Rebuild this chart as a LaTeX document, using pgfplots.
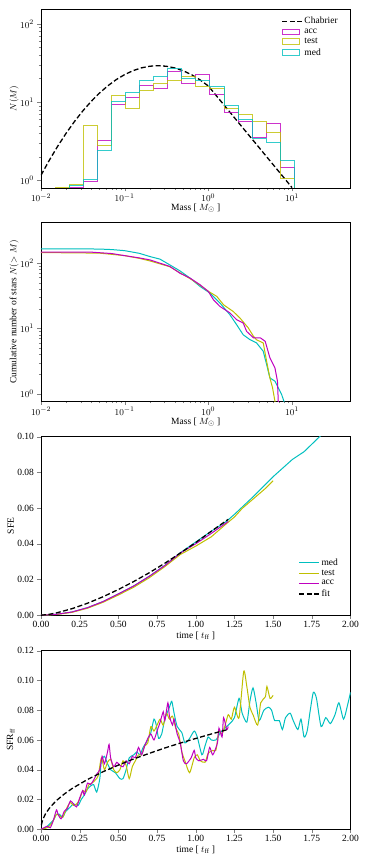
\documentclass[border=0pt]{standalone}
\usepackage{fontspec}
\setmainfont{Liberation Serif}
\usepackage{pgfplots}
\pgfplotsset{compat=1.18}

\definecolor{cmed}{HTML}{00BFBF}
\definecolor{ctest}{HTML}{BFBF00}
\definecolor{cacc}{HTML}{BF00BF}

\newcommand{\labfont}{\fontsize{9.5}{11}\selectfont}

\pgfplotsset{every axis/.append style={
    scale only axis, width=309.5pt, height=178.5pt,
    anchor=north west,
    axis line style={black, line width=0.6pt},
    tick align=outside, tick pos=left,
    major tick length=3.5pt, minor tick length=2pt,
    tick label style={font=\labfont},
    xticklabel style={inner sep=2pt},
    label style={font=\labfont},
    xlabel style={at={(axis description cs:0.5,-0.115)}, anchor=center},
    legend cell align=left,
    legend style={draw=none, fill=none, inner sep=0pt, row sep=0.5pt,
      font=\labfont, anchor=north west, nodes={inner sep=1.5pt}},
  }}

\begin{document}
\begin{tikzpicture}
\useasboundingbox (-41pt,9.3pt) rectangle (324pt,-852.7pt);

% ---------- panel 1: mass function ----------
\begin{loglogaxis}[at={(0pt,0pt)},
    xmin=0.01, xmax=50, ymin=0.8, ymax=154,
    xtick={0.01,0.1,1,10}, ytick={1,10,100},
    xlabel={Mass [ $M_\odot$ ]},
    ylabel={$N(M)$},
    ylabel style={at={(axis description cs:-0.087,0.5)}, anchor=center},
    legend style={at={(axis description cs:0.777,0.965)}},
    legend image code/.code={\draw[#1] (0pt,0pt) -- (20pt,0pt);},
  ]
  \addplot[black, line width=1.3pt, dash pattern=on 5pt off 2.5pt] coordinates {
    (0.01,1.159) (0.01259,1.807) (0.01585,2.729) (0.01995,3.990) (0.02512,5.642)
    (0.03162,7.718) (0.03981,10.21) (0.05012,13.08) (0.0631,16.20) (0.07943,19.42)
    (0.1,22.51) (0.1259,25.25) (0.1585,27.41) (0.1995,28.78) (0.2512,29.24)
    (0.3162,28.74) (0.3981,27.33) (0.5012,25.16) (0.631,22.39) (0.7943,19.29)
    (1.0,16.07) (1.585,8.83) (2.512,4.85) (3.981,2.67) (6.31,1.466) (10.0,0.805)
  };
  \addlegendentry{Chabrier}
  \addplot[cacc, const plot mark left, line width=0.9pt, opacity=0.8, area legend] coordinates {
    (0.01,0.5) (0.01473,0.5) (0.0217,0.82) (0.03196,0.97) (0.04708,3.26)
    (0.06934,9.2) (0.1021,11.4) (0.1504,16.5) (0.2216,15.0) (0.3264,24.7)
    (0.4808,17.5) (0.7082,22.4) (1.043,12.7) (1.537,7.3) (2.264,5.6)
    (3.334,3.5) (4.911,5.4) (7.234,1.44) (10.66,0.5)
  };
  \addlegendentry{acc}
  \addplot[ctest, const plot mark left, line width=0.9pt, opacity=0.8, area legend] coordinates {
    (0.01,0.5) (0.01473,0.8) (0.0217,0.88) (0.03196,5.07) (0.04708,2.75)
    (0.06934,12.3) (0.1021,8.3) (0.1504,14.0) (0.2216,17.3) (0.3264,18.8)
    (0.4808,21.0) (0.7082,16.0) (1.043,15.0) (1.537,8.3) (2.264,6.95)
    (3.334,5.7) (4.911,4.05) (7.234,1.04) (10.66,0.5)
  };
  \addlegendentry{test}
  \addplot[cmed, const plot mark left, line width=0.9pt, opacity=0.8, area legend] coordinates {
    (0.01,0.5) (0.01473,0.5) (0.0217,0.85) (0.03196,1.03) (0.04708,2.38)
    (0.06934,10.3) (0.1021,13.3) (0.1504,18.8) (0.2216,21.1) (0.3264,27.0)
    (0.4808,20.3) (0.7082,19.1) (1.043,16.0) (1.537,9.1) (2.264,6.0)
    (3.334,3.4) (4.911,3.04) (7.234,1.77) (10.66,0.5)
  };
  \addlegendentry{med}
\end{loglogaxis}

% ---------- panel 2: cumulative ----------
\begin{loglogaxis}[at={(0pt,-213.4pt)},
    xmin=0.01, xmax=50, ymin=0.77, ymax=415,
    xtick={0.01,0.1,1,10}, ytick={1,10,100},
    xlabel={Mass [ $M_\odot$ ]},
    ylabel={Cumulative number of stars $N(>M)$},
    ylabel style={at={(axis description cs:-0.087,0.5)}, anchor=center},
  ]
  \addplot[cmed, line width=1pt] coordinates {
    (0.01,165) (0.03,165) (0.05,164) (0.07,161) (0.1,155) (0.15,141) (0.2,126)
    (0.264,115) (0.346,94) (0.458,76) (0.603,59) (0.794,44) (1.045,34.8)
    (1.376,24.5) (1.81,16.2) (2.18,11.4) (2.61,8.0) (3.14,6.74) (3.77,6.0)
    (4.53,4.47) (4.97,2.8) (5.44,1.75) (6.25,1.56) (6.84,1.24) (7.5,0.98)
    (8.0,0.77) (8.3,0.6)
  };
  \addplot[ctest, line width=1pt] coordinates {
    (0.01,145) (0.05,142) (0.1,130) (0.15,118) (0.2,108) (0.346,88) (0.458,71)
    (0.603,58) (0.794,46) (1.0,37) (1.26,31) (1.52,23) (1.98,18.2) (2.38,14.5)
    (3.0,10.2) (3.46,7.6) (3.77,6.7) (4.53,6.0) (4.97,3.15) (5.44,1.75)
    (5.85,1.24) (6.25,0.77) (6.4,0.6)
  };
  \addplot[cacc, line width=1pt] coordinates {
    (0.01,147) (0.04,147) (0.07,140) (0.1,130) (0.15,120) (0.2,112) (0.346,89)
    (0.458,70) (0.603,59) (0.794,46.7) (1.0,36.8) (1.15,27.5) (1.376,21.7)
    (1.81,17.3) (2.18,13.6) (2.61,12.1) (2.87,9.0) (3.46,7.2) (4.17,7.2)
    (4.78,6.35) (5.44,3.55) (6.25,2.49) (6.7,1.56) (6.87,0.7) (6.9,0.6)
  };
\end{loglogaxis}

% ---------- panel 3: SFE ----------
\begin{axis}[at={(0pt,-427.4pt)},
    xmin=0, xmax=2, ymin=0, ymax=0.1,
    xtick={0,0.25,0.5,0.75,1,1.25,1.5,1.75,2},
    ytick={0,0.02,0.04,0.06,0.08,0.1},
    scaled ticks=false,
    xticklabel style={/pgf/number format/.cd, fixed, fixed zerofill, precision=2, assume math mode=true},
    yticklabel style={/pgf/number format/.cd, fixed, fixed zerofill, precision=2, assume math mode=true},
    xlabel={time [ $t_{\mathrm{ff}}$ ]},
    ylabel={SFE},
    ylabel style={at={(axis description cs:-0.098,0.5)}, anchor=center},
    legend style={at={(axis description cs:0.832,0.327)}},
    legend image code/.code={\draw[#1] (0pt,0pt) -- (20pt,0pt);},
  ]
  \addplot[cmed, line width=1pt] coordinates {
    (0,0) (0.1,0.0005) (0.2,0.0018) (0.3,0.0042) (0.4,0.0076) (0.5,0.0119)
    (0.6,0.0164) (0.7,0.0218) (0.8,0.0279) (0.9,0.0350) (1.0,0.0410)
    (1.1,0.0470) (1.2,0.0527) (1.25,0.0565) (1.375,0.0667) (1.5,0.0776)
    (1.625,0.0873) (1.7,0.0916) (1.8,0.1000) (1.9,0.108) (2.0,0.116)
  };
  \addlegendentry{med}
  \addplot[ctest, line width=1pt] coordinates {
    (0,0) (0.1,0.0004) (0.2,0.0016) (0.3,0.0039) (0.4,0.0072) (0.5,0.0113)
    (0.6,0.0157) (0.7,0.0210) (0.8,0.0272) (0.9,0.0340) (1.0,0.0387)
    (1.1,0.0439) (1.2,0.0514) (1.25,0.0550) (1.3,0.0598) (1.375,0.0654)
    (1.45,0.0710) (1.5,0.0753)
  };
  \addlegendentry{test}
  \addplot[cacc, line width=1pt] coordinates {
    (0,0) (0.1,0.0005) (0.2,0.0018) (0.3,0.0042) (0.4,0.0076) (0.5,0.0119)
    (0.6,0.0164) (0.7,0.0218) (0.8,0.0278) (0.9,0.0348) (1.0,0.0400)
    (1.1,0.0458) (1.21,0.0525)
  };
  \addlegendentry{acc}
  \addplot[black, line width=1.3pt, dash pattern=on 5pt off 2.5pt] coordinates {
    (0,0) (0.05,0.00045) (0.1,0.00129) (0.2,0.00364) (0.3,0.00669) (0.4,0.0103)
    (0.5,0.0144) (0.6,0.0189) (0.7,0.0238) (0.8,0.0291) (0.9,0.0348)
    (1.0,0.0407) (1.1,0.0470) (1.21,0.0537)
  };
  \addlegendentry{fit}
\end{axis}

% ---------- panel 4: SFR per free-fall time ----------
\begin{axis}[at={(0pt,-641.4pt)},
    xmin=0, xmax=2, ymin=0, ymax=0.12,
    xtick={0,0.25,0.5,0.75,1,1.25,1.5,1.75,2},
    ytick={0,0.02,0.04,0.06,0.08,0.1,0.12},
    scaled ticks=false,
    xticklabel style={/pgf/number format/.cd, fixed, fixed zerofill, precision=2, assume math mode=true},
    yticklabel style={/pgf/number format/.cd, fixed, fixed zerofill, precision=2, assume math mode=true},
    xlabel={time [ $t_{\mathrm{ff}}$ ]},
    ylabel={SFR\textsubscript{ff}},
    ylabel style={at={(axis description cs:-0.098,0.5)}, anchor=center},
  ]
  \addplot[cmed, line width=1pt, smooth, tension=0.4] coordinates {
    (0.00,0.000) (0.03,0.001) (0.06,0.004) (0.08,0.006) (0.10,0.010) (0.12,0.010)
    (0.14,0.008) (0.16,0.012) (0.19,0.015) (0.21,0.017) (0.24,0.016) (0.26,0.020)
    (0.28,0.023) (0.30,0.027) (0.32,0.029) (0.34,0.030) (0.36,0.025) (0.38,0.034)
    (0.39,0.046) (0.41,0.049) (0.43,0.044) (0.45,0.040) (0.48,0.038) (0.51,0.034)
    (0.53,0.034) (0.55,0.040) (0.57,0.048) (0.60,0.050) (0.62,0.052) (0.64,0.050)
    (0.66,0.055) (0.69,0.060) (0.71,0.065) (0.73,0.074) (0.745,0.070) (0.76,0.061)
    (0.78,0.064) (0.80,0.074) (0.83,0.082) (0.845,0.086) (0.86,0.078) (0.88,0.069)
    (0.91,0.065) (0.93,0.058) (0.96,0.061) (0.99,0.066) (1.01,0.062) (1.04,0.050)
    (1.06,0.056) (1.08,0.062) (1.10,0.060) (1.13,0.060) (1.16,0.065) (1.19,0.068)
    (1.22,0.071) (1.25,0.075) (1.28,0.088) (1.30,0.078) (1.33,0.072) (1.35,0.086)
    (1.37,0.095) (1.39,0.085) (1.41,0.073) (1.44,0.080) (1.47,0.082) (1.49,0.080)
    (1.51,0.073) (1.54,0.073) (1.56,0.067) (1.58,0.075) (1.61,0.078) (1.63,0.073)
    (1.66,0.067) (1.68,0.074) (1.70,0.062) (1.72,0.066) (1.74,0.080) (1.76,0.092)
    (1.78,0.088) (1.81,0.069) (1.84,0.075) (1.87,0.071) (1.90,0.077) (1.925,0.085)
    (1.955,0.074) (1.98,0.083) (2.00,0.092)
  };
  \addplot[ctest, line width=1pt, smooth, tension=0.4] coordinates {
    (0.00,0.000) (0.04,0.001) (0.07,0.004) (0.10,0.010) (0.12,0.009) (0.14,0.008)
    (0.17,0.015) (0.19,0.018) (0.21,0.016) (0.23,0.017) (0.25,0.020) (0.27,0.026)
    (0.29,0.025) (0.31,0.030) (0.33,0.031) (0.35,0.033) (0.37,0.036) (0.39,0.048)
    (0.41,0.040) (0.43,0.045) (0.45,0.047) (0.47,0.040) (0.49,0.038) (0.51,0.040)
    (0.53,0.046) (0.55,0.043) (0.57,0.034) (0.59,0.042) (0.61,0.046) (0.63,0.050)
    (0.65,0.050) (0.67,0.056) (0.69,0.058) (0.71,0.069) (0.73,0.066) (0.75,0.070)
    (0.77,0.074) (0.79,0.070) (0.81,0.078) (0.83,0.074) (0.85,0.076) (0.87,0.068)
    (0.89,0.064) (0.91,0.052) (0.93,0.046) (0.96,0.038) (0.99,0.048) (1.01,0.050)
    (1.03,0.046) (1.06,0.045) (1.08,0.051) (1.11,0.053) (1.13,0.053) (1.15,0.066)
    (1.17,0.064) (1.19,0.070) (1.21,0.077) (1.23,0.074) (1.25,0.082) (1.28,0.075)
    (1.31,0.106) (1.33,0.096) (1.35,0.082) (1.37,0.077) (1.40,0.070) (1.42,0.085)
    (1.45,0.089) (1.46,0.096) (1.48,0.088) (1.50,0.090)
  };
  \addplot[cacc, line width=1pt, smooth, tension=0.4] coordinates {
    (0.00,0.000) (0.02,0.001) (0.04,0.002) (0.06,0.001) (0.08,0.006) (0.10,0.013)
    (0.11,0.010) (0.13,0.007) (0.15,0.012) (0.17,0.014) (0.19,0.019) (0.21,0.017)
    (0.23,0.015) (0.25,0.021) (0.27,0.026) (0.28,0.023) (0.30,0.031) (0.32,0.030)
    (0.34,0.033) (0.36,0.037) (0.38,0.040) (0.395,0.049) (0.41,0.044) (0.43,0.052)
    (0.44,0.057) (0.45,0.048) (0.47,0.042) (0.49,0.045) (0.51,0.043) (0.53,0.042)
    (0.55,0.046) (0.57,0.044) (0.59,0.049) (0.61,0.048) (0.63,0.055) (0.65,0.050)
    (0.67,0.056) (0.69,0.061) (0.71,0.064) (0.73,0.060) (0.75,0.066) (0.77,0.072)
    (0.79,0.079) (0.80,0.073) (0.82,0.085) (0.83,0.076) (0.85,0.070) (0.86,0.074)
    (0.88,0.064) (0.90,0.058) (0.92,0.046) (0.94,0.044) (0.97,0.048) (0.99,0.053)
    (1.00,0.048) (1.02,0.046) (1.05,0.047) (1.07,0.046) (1.09,0.055) (1.11,0.050)
    (1.14,0.058) (1.15,0.068) (1.17,0.062) (1.18,0.075) (1.20,0.067) (1.21,0.069)
  };
  \addplot[black, line width=1.3pt, dash pattern=on 5pt off 2.5pt] coordinates {
    (0.002,0.0027) (0.01,0.0061) (0.03,0.0106) (0.06,0.0149) (0.1,0.0193)
    (0.15,0.0236) (0.2,0.0273) (0.3,0.0334) (0.4,0.0386) (0.5,0.0431)
    (0.6,0.0473) (0.7,0.0510) (0.8,0.0546) (0.9,0.0579) (1.0,0.0610)
    (1.1,0.0640) (1.21,0.0671)
  };
\end{axis}
\end{tikzpicture}
\end{document}
